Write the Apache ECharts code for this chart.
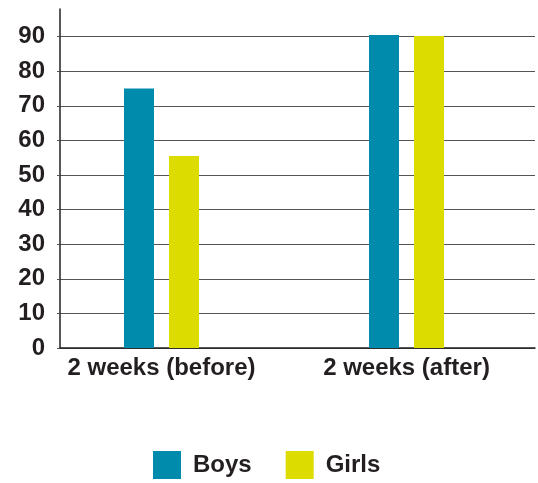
<!DOCTYPE html>
<html>
<head>
<meta charset="utf-8">
<script src="https://cdn.jsdelivr.net/npm/echarts@6/dist/echarts.min.js"></script>
<style>
  html, body { margin: 0; padding: 0; background: #fff; }
  #containerg { width: 538px; height: 483px; }
</style>
</head>
<body>
<div id="containerg"></div>
<script>
var categories = ['2 weeks (before)', '2 weeks (after)'];
var boys = [75, 90.5];
var girls = [55.5, 90.2];
var yTicks = [0, 10, 20, 30, 40, 50, 60, 70, 80, 90];

armagrafico();

function armagrafico() {
    var dom = document.getElementById("containerg");
    var myChart = echarts.init(dom);
    var txt = '#231f20';
    var fontF = '"Liberation Sans", Arial, sans-serif';

    var option;
    option = {
        animation: false,
        grid: [
            // marco + lineas
            { left: 60, right: 3, top: 9, bottom: 135 },
            // barras + etiquetas
            { left: 39, right: 9, top: 9, bottom: 135 }
        ],
        legend: {
            left: 148,
            top: 446,
            icon: 'rect',
            itemWidth: 28,
            itemHeight: 28,
            itemGap: 34,
            textStyle: { color: txt, fontSize: 24, fontWeight: 'bold', fontFamily: fontF, padding: [0, 0, 0, 7] },
            data: ['Boys', 'Girls']
        },
        xAxis: [
            {
                gridIndex: 0,
                type: 'value',
                min: 0,
                max: 1,
                axisLine: { show: true, lineStyle: { color: '#231f20', width: 1.5 } },
                axisTick: { show: false },
                axisLabel: { show: false },
                splitLine: { show: false }
            },
            {
                gridIndex: 1,
                type: 'category',
                data: categories,
                axisLine: { show: false },
                axisTick: { show: false },
                axisLabel: { color: txt, fontSize: 24, fontWeight: 'bold', fontFamily: fontF, margin: 8 }
            }
        ],
        yAxis: [
            {
                gridIndex: 0,
                type: 'value',
                min: 0,
                max: 98,
                interval: 10,
                axisLine: { show: true, lineStyle: { color: '#231f20', width: 1.5 } },
                axisTick: { show: true, length: 3, customValues: yTicks, lineStyle: { color: '#555' } },
                axisLabel: { color: txt, fontSize: 24, fontWeight: 'bold', fontFamily: fontF, margin: 15, customValues: yTicks },
                splitLine: { show: true, lineStyle: { color: '#555', width: 1.2 } }
            },
            {
                gridIndex: 1,
                type: 'value',
                min: 0,
                max: 98,
                show: false
            }
        ],
        series: [
            {
                name: 'Boys',
                type: 'bar',
                xAxisIndex: 1,
                yAxisIndex: 1,
                barWidth: 30,
                barGap: '50%',
                itemStyle: { color: '#008bad' },
                data: boys
            },
            {
                name: 'Girls',
                type: 'bar',
                xAxisIndex: 1,
                yAxisIndex: 1,
                barWidth: 30,
                barGap: '50%',
                itemStyle: { color: '#dcdc00' },
                data: girls
            }
        ]
    };

    if (option && typeof option === 'object') {
        myChart.setOption(option);
    }
}
</script>
</body>
</html>
